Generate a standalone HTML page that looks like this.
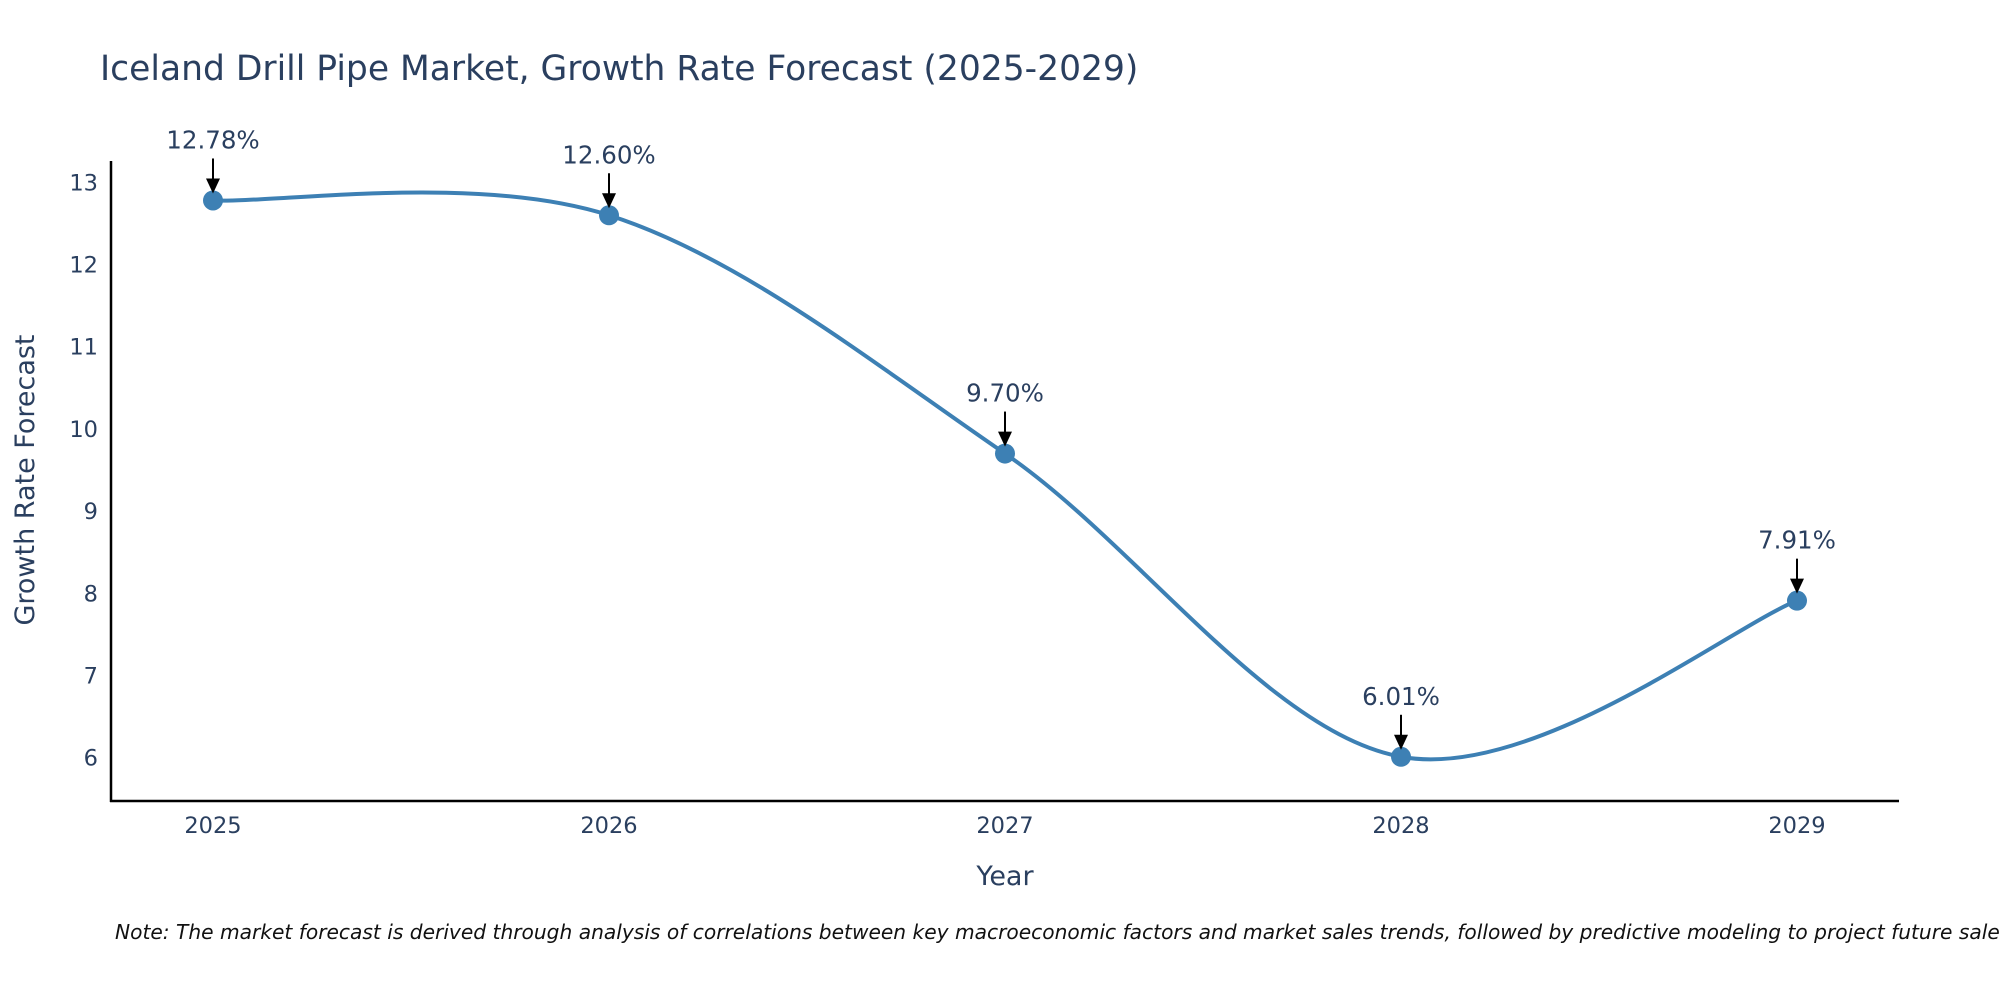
<!DOCTYPE html>
<html><head><meta charset="utf-8"><style>
html,body{margin:0;padding:0;background:#fff;}
svg{display:block;font-family:"DejaVu Sans","Liberation Sans",sans-serif;}
</style></head><body>
<svg width="2000" height="1000" viewBox="0 0 2000 1000">
<text x="100" y="80" font-size="34.5" fill="#2a3f5f">Iceland Drill Pipe Market, Growth Rate Forecast (2025-2029)</text>
<g id="yticks"></g>
<g id="xticks"></g>
<line x1="111" y1="161" x2="111" y2="802" stroke="#000" stroke-width="2.5"/>
<line x1="110" y1="801" x2="1899" y2="801" stroke="#000" stroke-width="2.5"/>
<text x="34" y="480" font-size="27" fill="#2a3f5f" text-anchor="middle" transform="rotate(-90 34 480)">Growth Rate Forecast</text>
<text x="1005" y="885" font-size="27" fill="#2a3f5f" text-anchor="middle">Year</text>
<g id="plot"></g>
<text x="115" y="939" font-size="20.2" font-style="italic" fill="#111">Note: The market forecast is derived through analysis of correlations between key macroeconomic factors and market sales trends, followed by predictive modeling to project future sales.</text>
</svg>
<script>
const years = [2025, 2026, 2027, 2028, 2029];
const rates = [12.78, 12.60, 9.70, 6.01, 7.91];
const labels = ["12.78%", "12.60%", "9.70%", "6.01%", "7.91%"];
const yTicks = [6, 7, 8, 9, 10, 11, 12, 13];
const NS = "http://www.w3.org/2000/svg";
function xs(v){ return 213 + (v - 2025) * (1797 - 213) / 4; }
function ys(v){ return 757.6 - (v - 6) * (757.6 - 182.4) / 7; }
function mk(tag, attrs, parent){ const e=document.createElementNS(NS,tag); for(const k in attrs) e.setAttribute(k,attrs[k]); parent.appendChild(e); return e; }
const yg=document.getElementById('yticks'), xg=document.getElementById('xticks'), pg=document.getElementById('plot');
yTicks.forEach(t=>{
  const e=mk('text',{x:98,y:ys(t)+8,'font-size':22.5,fill:'#2a3f5f','text-anchor':'end'},yg);
  e.textContent=t;
  
  
});
years.forEach(y=>{
  const e=mk('text',{x:xs(y),y:833,'font-size':22.5,fill:'#2a3f5f','text-anchor':'middle'},xg);
  e.textContent=y;
  
  
});
const pts=years.map((y,i)=>[xs(y),ys(rates[i])]);
let d=`M${pts[0][0]},${pts[0][1]}`;
for(let i=0;i<pts.length-1;i++){
  const p0=pts[Math.max(0,i-1)],p1=pts[i],p2=pts[i+1],p3=pts[Math.min(pts.length-1,i+2)];
  const c1=[p1[0]+(p2[0]-p0[0])/6,p1[1]+(p2[1]-p0[1])/6];
  const c2=[p2[0]-(p3[0]-p1[0])/6,p2[1]-(p3[1]-p1[1])/6];
  d+=` C${c1[0]},${c1[1]} ${c2[0]},${c2[1]} ${p2[0]},${p2[1]}`;
}
const line=mk('path',{d:d,fill:'none',stroke:'#3d80b4','stroke-width':4},pg);


pts.forEach((p,i)=>{
  const c=mk('circle',{cx:p[0],cy:p[1],r:10,fill:'#3d80b4'},pg);
  
  
  const a=mk('line',{x1:p[0],y1:p[1]-42,x2:p[0],y2:p[1]-18,stroke:'#000','stroke-width':2},pg);
  
  
  const h=mk('path',{d:`M${p[0]-7},${p[1]-22} L${p[0]+7},${p[1]-22} L${p[0]},${p[1]-7} Z`,fill:'#000'},pg);
  
  
  const t=mk('text',{x:p[0],y:p[1]-52,'font-size':24.5,fill:'#2a3f5f','text-anchor':'middle'},pg);
  t.textContent=labels[i];
  
  
});
</script>
</body></html>
